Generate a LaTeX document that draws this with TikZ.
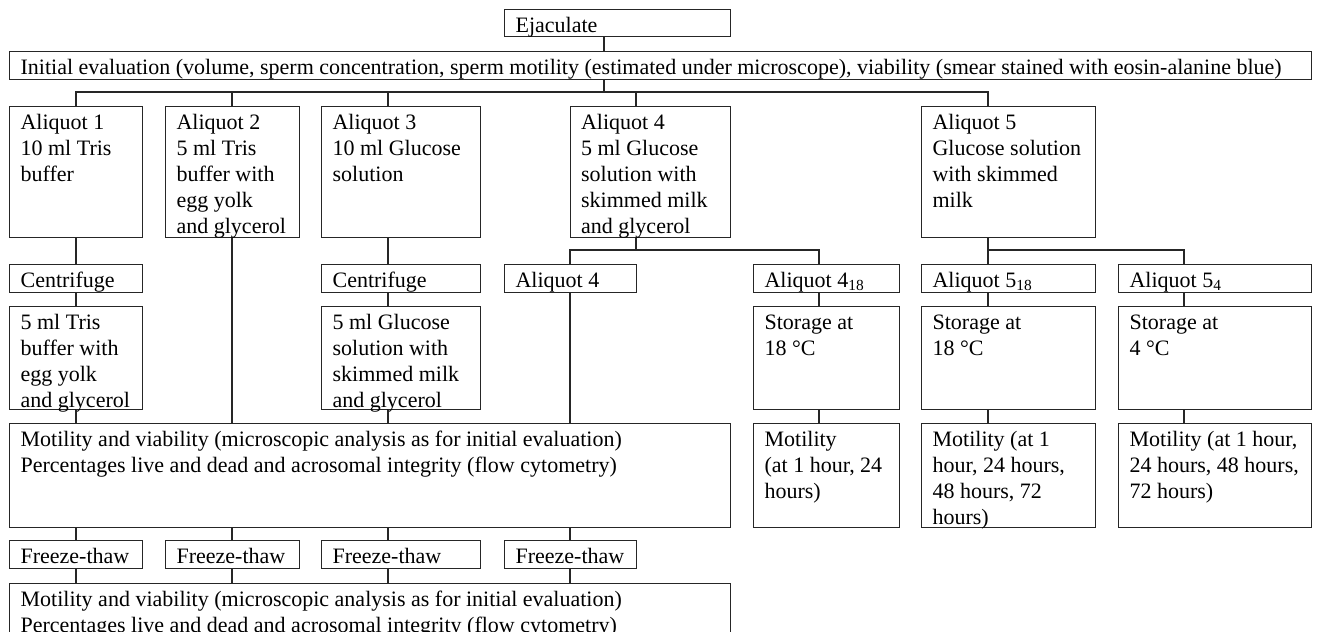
\documentclass[tikz,border=0pt]{standalone}
\usepackage{fontspec}
\setmainfont{Liberation Serif}
\usetikzlibrary{positioning}

\begin{document}
\begin{tikzpicture}[x=0.5pt,y=-0.5pt,
    stage/.style={draw=black!85,line width=0.6pt,anchor=north west,align=flush left,
      inner xsep=5.5pt,inner ysep=2pt,text height=9.5pt,
      font=\fontsize{11}{13}\selectfont,
      execute at begin node={\spaceskip=0pt\xspaceskip=0pt\hyphenpenalty=10000\relax}},
    short/.style={stage,text depth=0.5pt},
    tall/.style={stage,text depth=52pt},
    mid/.style={stage,text depth=38pt},
    link/.style={draw=black!85,line width=0.6pt}]
  \useasboundingbox (0,0) rectangle (1318,632);

  % columns of the connectors
  \coordinate (c0) at (604,0);
  \coordinate (c1) at (76,0);
  \coordinate (c2) at (232,0);
  \coordinate (c3) at (388,0);
  \coordinate (c4) at (636,0);
  \coordinate (c4a) at (570,0);
  \coordinate (c4b) at (819,0);
  \coordinate (c5) at (988,0);
  \coordinate (c5b) at (1184,0);
  \coordinate (bus1) at (0,92);
  \coordinate (bus2) at (0,250);

  \node[stage,text width=102pt,text depth=0pt] (ejac) at (504,9) {Ejaculate};
  \node[short,text width=640pt] (init) at (9,51)
    {Initial evaluation (volume, sperm concentration, sperm motility (estimated under microscope), viability (smear stained with eosin-alanine blue)};

  \node[tall,text width=55.5pt] (a1) at (9,106) {Aliquot 1\\10 ml Tris\\buffer};
  \node[tall,text width=56pt] (a2) at (165,106) {Aliquot 2\\5 ml Tris\\buffer with\\egg yolk\\and~glycerol};
  \node[tall,text width=68.5pt] (a3) at (321,106) {Aliquot 3\\10 ml Glucose\\solution};
  \node[tall,text width=69pt] (a4) at (569.5,106) {Aliquot 4\\5 ml Glucose\\solution with\\skimmed milk\\and glycerol};
  \node[tall,text width=76pt] (a5) at (921,106) {Aliquot 5\\Glucose~solution\\with skimmed\\milk};

  \node[short,text width=55.5pt] (cen1) at (9,264) {Centrifuge};
  \node[short,text width=68.5pt] (cen3) at (321,264) {Centrifuge};
  \node[short,text width=55pt] (a4s) at (504,264) {Aliquot 4};
  \node[short,text width=62pt] (a418) at (753,264) {Aliquot 4\textsubscript{18}};
  \node[short,text width=76pt] (a518) at (921,264) {Aliquot 5\textsubscript{18}};
  \node[short,text width=85.5pt] (a54) at (1118,264) {Aliquot 5\textsubscript{4}};

  \node[mid,text width=55.5pt] (tris) at (9,306) {5 ml Tris\\buffer with\\egg yolk\\and~glycerol};
  \node[mid,text width=68.5pt] (glu) at (321,306) {5 ml Glucose\\solution with\\skimmed milk\\and~glycerol};
  \node[mid,text width=62pt] (st418) at (753,306) {Storage at\\18~°C};
  \node[mid,text width=76pt] (st518) at (921,306) {Storage at\\18~°C};
  \node[mid,text width=85.5pt] (st54) at (1118,306) {Storage at\\4~°C};

  \node[stage,text width=349.5pt,text depth=38.5pt] (mot) at (9,423)
    {Motility and viability (microscopic analysis as for initial evaluation)\\Percentages live and dead and acrosomal integrity (flow cytometry)};
  \node[stage,text width=62pt,text depth=38.5pt] (m418) at (753,423) {Motility\\(at 1 hour, 24\\hours)};
  \node[stage,text width=76pt,text depth=38.5pt] (m518) at (921,423) {Motility (at 1\\hour, 24 hours,\\48 hours, 72\\hours)};
  \node[stage,text width=85.5pt,text depth=38.5pt] (m54) at (1118,423) {Motility (at 1~hour,\\24 hours, 48~hours,\\72 hours)};

  \foreach \n/\xl/\tw in {1/9/55.5pt,2/165/56pt,3/321/68.5pt,4/504/55pt}
    \node[short,text width=\tw] (ft\n) at (\xl,540) {Freeze-thaw};

  \node[stage,text width=349.5pt,text depth=20pt] (fin) at (9,583)
    {Motility and viability (microscopic analysis as for initial evaluation)\\Percentages live and dead and acrosomal integrity (flow cytometry)};

  \draw[link] (ejac.south -| c0) -- (init.north -| c0);
  \draw[link] (init.south -| c0) -- (c0 |- bus1);
  \draw[link] (a1.north -| c1) |- (c5 |- bus1) -- (a5.north -| c5);
  \draw[link] (a2.north -| c2) -- (c2 |- bus1);
  \draw[link] (a3.north -| c3) -- (c3 |- bus1);
  \draw[link] (a4.north -| c4) -- (c4 |- bus1);

  \draw[link] (a1.south -| c1) -- (cen1.north -| c1);
  \draw[link] (cen1.south -| c1) -- (tris.north -| c1);
  \draw[link] (tris.south -| c1) -- (mot.north -| c1);
  \draw[link] (a2.south -| c2) -- (mot.north -| c2);
  \draw[link] (a3.south -| c3) -- (cen3.north -| c3);
  \draw[link] (cen3.south -| c3) -- (glu.north -| c3);
  \draw[link] (glu.south -| c3) -- (mot.north -| c3);

  \draw[link] (a4.south -| c4) -- (c4 |- bus2);
  \draw[link] (a4s.north -| c4a) |- (c4b |- bus2) -- (a418.north -| c4b);
  \draw[link] (a4s.south -| c4a) -- (mot.north -| c4a);
  \draw[link] (a418.south -| c4b) -- (st418.north -| c4b);
  \draw[link] (st418.south -| c4b) -- (m418.north -| c4b);

  \draw[link] (a5.south -| c5) -- (a518.north -| c5);
  \draw[link] (c5 |- bus2) -| (a54.north -| c5b);
  \draw[link] (a518.south -| c5) -- (st518.north -| c5);
  \draw[link] (st518.south -| c5) -- (m518.north -| c5);
  \draw[link] (a54.south -| c5b) -- (st54.north -| c5b);
  \draw[link] (st54.south -| c5b) -- (m54.north -| c5b);

  \foreach \n/\c in {1/c1,2/c2,3/c3,4/c4a} {
    \draw[link] (mot.south -| \c) -- (ft\n.north -| \c);
    \draw[link] (ft\n.south -| \c) -- (fin.north -| \c);
  }
\end{tikzpicture}
\end{document}
